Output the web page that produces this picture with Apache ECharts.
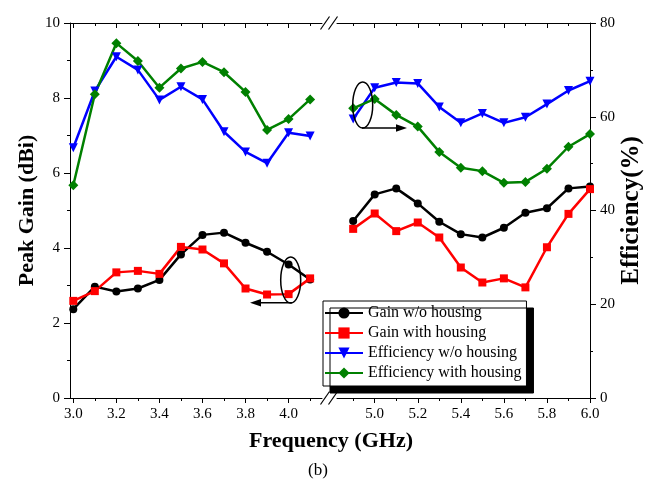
<!DOCTYPE html>
<html>
<head>
<meta charset="utf-8">
<script src="https://cdn.jsdelivr.net/npm/echarts@6/dist/echarts.min.js"></script>
<style>
  html, body { margin: 0; padding: 0; background: #fff; }
  #main { width: 647px; height: 486px; }
</style>
</head>
<body>
<div id="main"></div>
<script>
// frequencies, split by the axis break
var freqLow = [3.0, 3.1, 3.2, 3.3, 3.4, 3.5, 3.6, 3.7, 3.8, 3.9, 4.0, 4.1];
var freqHigh = [4.9, 5.0, 5.1, 5.2, 5.3, 5.4, 5.5, 5.6, 5.7, 5.8, 5.9, 6.0];

// peak gain (dBi)
var gainNoHousingLow = [2.37, 2.97, 2.84, 2.92, 3.15, 3.83, 4.35, 4.41, 4.14, 3.90, 3.56, 3.16];
var gainHousingLow = [2.59, 2.85, 3.35, 3.39, 3.31, 4.03, 3.96, 3.59, 2.92, 2.76, 2.77, 3.19];
var gainNoHousingHigh = [4.72, 5.43, 5.59, 5.19, 4.70, 4.37, 4.28, 4.54, 4.94, 5.06, 5.59, 5.64];
var gainHousingHigh = [4.51, 4.92, 4.45, 4.68, 4.28, 3.48, 3.08, 3.19, 2.95, 4.02, 4.91, 5.57];

// efficiency (%)
var effNoHousingLow = [53.4, 65.5, 72.8, 70.0, 63.6, 66.4, 63.7, 56.8, 52.5, 50.1, 56.6, 55.9];
var effHousingLow = [45.4, 64.8, 75.7, 71.9, 66.2, 70.3, 71.7, 69.5, 65.3, 57.2, 59.5, 63.7];
var effNoHousingHigh = [59.5, 66.2, 67.3, 67.1, 62.1, 58.7, 60.7, 58.7, 59.9, 62.7, 65.6, 67.6];
var effHousingHigh = [61.8, 63.8, 60.4, 57.9, 52.5, 49.1, 48.4, 45.9, 46.1, 48.9, 53.6, 56.3];

// tick labels
var majorTicksLow = [3.0, 3.2, 3.4, 3.6, 3.8, 4.0];
var minorTicksLow = [3.1, 3.3, 3.5, 3.7, 3.9, 4.1];
var majorTicksHigh = [5.0, 5.2, 5.4, 5.6, 5.8, 6.0];
var minorTicksHigh = [4.9, 5.1, 5.3, 5.5, 5.7, 5.9];

var seriesNames = ['Gain w/o housing', 'Gain with housing', 'Efficiency w/o housing', 'Efficiency with housing'];

var FONT = 'Liberation Serif';

var chart = echarts.init(document.getElementById('main'));

function pairs(xs, ys) {
  return xs.map(function (x, i) { return [x, ys[i]]; });
}

// one x axis: bottom/top, major/minor
function xAx(grid, min, max, pos, ticks, major) {
  return {
    type: 'value',
    gridIndex: grid,
    position: pos,
    min: min,
    max: max,
    axisLine: { show: major, onZero: false, lineStyle: { color: '#000', width: 1 } },
    axisTick: {
      show: true,
      inside: pos === 'top',
      length: major ? 5 : 3,
      customValues: ticks,
      lineStyle: { color: '#000' }
    },
    axisLabel: {
      show: major && pos === 'bottom',
      customValues: ticks,
      margin: 9,
      color: '#000',
      fontFamily: FONT,
      fontSize: 15,
      formatter: function (v) { return v.toFixed(1); }
    },
    splitLine: { show: false }
  };
}

var lowMin = 2.9847, lowMax = 4.1552;
var highMin = 4.8249, highMax = 6.0;

function yAx(grid, max, interval, pos, show, name, gap, nameSize) {
  return {
    type: 'value',
    gridIndex: grid,
    position: pos,
    show: show,
    min: 0,
    max: max,
    interval: interval,
    name: name,
    nameLocation: 'middle',
    nameRotate: 90,
    nameGap: gap,
    nameTextStyle: { color: '#000', fontFamily: FONT, fontSize: nameSize || 22, fontWeight: 'bold' },
    axisLine: { show: true, lineStyle: { color: '#000', width: 1 } },
    axisTick: { show: true, length: 6, lineStyle: { color: '#000' } },
    minorTick: { show: true, splitNumber: 2, length: 3, lineStyle: { color: '#000' } },
    axisLabel: { color: '#000', fontFamily: FONT, fontSize: 15, margin: 10 },
    splitLine: { show: false }
  };
}

function line(name, xi, yi, data, color, symbol, size, rotate) {
  return {
    name: name,
    type: 'line',
    xAxisIndex: xi,
    yAxisIndex: yi,
    data: data,
    symbol: symbol,
    symbolSize: size,
    symbolRotate: rotate || 0,
    lineStyle: { color: color, width: 2.5 },
    itemStyle: { color: color },
    animation: false
  };
}

function breakMark(y) {
  return [
    { type: 'line', shape: { x1: 320.5, y1: y + 6.5, x2: 329.5, y2: y - 6.5 }, style: { stroke: '#000', lineWidth: 1.2 } },
    { type: 'line', shape: { x1: 328.5, y1: y + 6.5, x2: 337.5, y2: y - 6.5 }, style: { stroke: '#000', lineWidth: 1.2 } }
  ];
}

var option = {
  backgroundColor: '#fff',
  animation: false,
  grid: [
    { left: 70, top: 23, width: 252, height: 375 },
    { left: 337, top: 23, width: 253, height: 375 }
  ],
  xAxis: [
    xAx(0, lowMin, lowMax, 'bottom', majorTicksLow, true),
    xAx(0, lowMin, lowMax, 'bottom', minorTicksLow, false),
    xAx(0, lowMin, lowMax, 'top', majorTicksLow, true),
    xAx(0, lowMin, lowMax, 'top', minorTicksLow, false),
    xAx(1, highMin, highMax, 'bottom', majorTicksHigh, true),
    xAx(1, highMin, highMax, 'bottom', minorTicksHigh, false),
    xAx(1, highMin, highMax, 'top', majorTicksHigh, true),
    xAx(1, highMin, highMax, 'top', minorTicksHigh, false)
  ],
  yAxis: [
    yAx(0, 10, 2, 'left', true, 'Peak Gain (dBi)', 32, 22),
    yAx(0, 80, 20, 'right', false, '', 0),
    yAx(1, 10, 2, 'left', false, '', 0),
    yAx(1, 80, 20, 'right', true, 'Efficiency(%)', 29, 25)
  ],
  legend: {
    orient: 'vertical',
    left: 323,
    top: 301,
    data: seriesNames,
    itemWidth: 38,
    itemHeight: 14,
    itemGap: 4,
    padding: [4, 5, 5, 1],
    backgroundColor: '#fff',
    borderColor: '#000',
    borderWidth: 1,
    borderRadius: 0,
    shadowColor: '#000',
    shadowBlur: 0,
    shadowOffsetX: 7,
    shadowOffsetY: 7,
    textStyle: { color: '#000', fontFamily: FONT, fontSize: 16 }
  },
  series: [
    line(seriesNames[0], 0, 0, pairs(freqLow, gainNoHousingLow), '#000000', 'circle', 8),
    line(seriesNames[1], 0, 0, pairs(freqLow, gainHousingLow), '#ff0000', 'rect', 8),
    line(seriesNames[2], 0, 1, pairs(freqLow, effNoHousingLow), '#0000ff', 'triangle', 9, 180),
    line(seriesNames[3], 0, 1, pairs(freqLow, effHousingLow), '#008000', 'diamond', 10),
    line(seriesNames[0], 4, 2, pairs(freqHigh, gainNoHousingHigh), '#000000', 'circle', 8),
    line(seriesNames[1], 4, 2, pairs(freqHigh, gainHousingHigh), '#ff0000', 'rect', 8),
    line(seriesNames[2], 4, 3, pairs(freqHigh, effNoHousingHigh), '#0000ff', 'triangle', 9, 180),
    line(seriesNames[3], 4, 3, pairs(freqHigh, effHousingHigh), '#008000', 'diamond', 10)
  ],
  graphic: [
    // axis break marks
    ...breakMark(398),
    ...breakMark(23),
    // gain callout: ellipse + arrow to the left axis
    { type: 'ellipse', shape: { cx: 290.7, cy: 280, rx: 10, ry: 23 }, style: { fill: null, stroke: '#000', lineWidth: 1.5 }, z: 10 },
    { type: 'line', shape: { x1: 292, y1: 302.7, x2: 258, y2: 302.7 }, style: { stroke: '#000', lineWidth: 1.5 }, z: 10 },
    { type: 'polygon', shape: { points: [[250, 302.7], [261, 299], [261, 306.4]] }, style: { fill: '#000' }, z: 10 },
    // efficiency callout: ellipse + arrow to the right axis
    { type: 'ellipse', shape: { cx: 362.7, cy: 105, rx: 10, ry: 23 }, style: { fill: null, stroke: '#000', lineWidth: 1.5 }, z: 10 },
    { type: 'line', shape: { x1: 362, y1: 128, x2: 399, y2: 128 }, style: { stroke: '#000', lineWidth: 1.5 }, z: 10 },
    { type: 'polygon', shape: { points: [[407, 128], [396, 124.3], [396, 131.7]] }, style: { fill: '#000' }, z: 10 },
    // x axis title and panel label
    { type: 'text', style: { text: 'Frequency (GHz)', x: 331, y: 441, align: 'center', verticalAlign: 'middle', fill: '#000', font: 'bold 22px "Liberation Serif"' } },
    { type: 'text', style: { text: '(b)', x: 318, y: 471, align: 'center', verticalAlign: 'middle', fill: '#000', font: '17px "Liberation Serif"' } }
  ]
};

chart.setOption(option);
</script>
</body>
</html>
